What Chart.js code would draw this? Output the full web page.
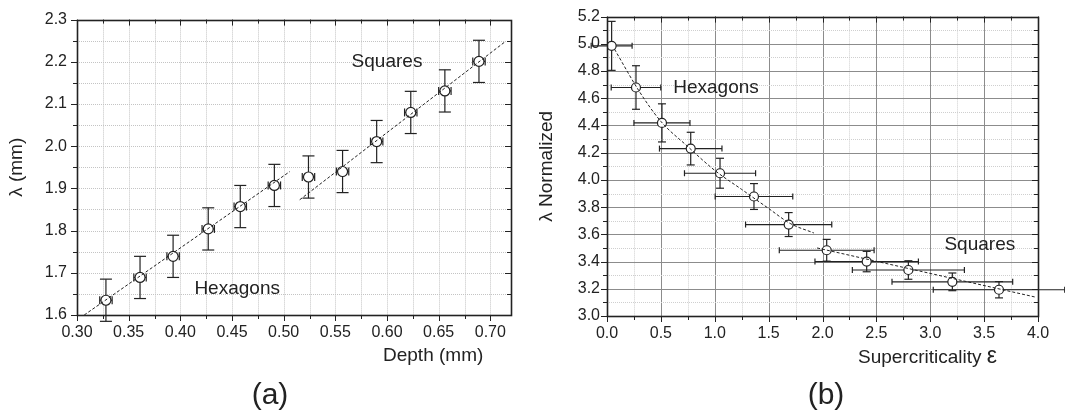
<!DOCTYPE html>
<html>
<head>
<meta charset="utf-8">
<script src="https://cdn.jsdelivr.net/npm/chart.js@4.4.0/dist/chart.umd.min.js"></script>
<style>
body { margin: 0; background: #fff; }
#wrap { position: relative; width: 1065px; height: 419px; font-family: "Liberation Sans", Arial, sans-serif; color: #222; }
canvas { position: absolute; top: 0; }
.lbl { position: absolute; white-space: nowrap; line-height: 1; }
</style>
</head>
<body>
<div id="wrap">
	<canvas id="chartA" width="532" height="419" style="left:0"></canvas>
	<canvas id="chartB" width="533" height="419" style="left:532px"></canvas>
	<div class="lbl" style="left:383px;top:345px;font-size:19px">Depth (mm)</div>
	<div class="lbl" style="left:858px;top:344px;font-size:19px">Supercriticality <span style="font-size:23px">ε</span></div>
	<div class="lbl" style="left:240px;top:379px;width:60px;text-align:center;font-size:30px">(a)</div>
	<div class="lbl" style="left:796px;top:379px;width:60px;text-align:center;font-size:30px">(b)</div>
</div>

<script>
// (a) wavelength vs depth
var depth     = [0.328, 0.361, 0.393, 0.427, 0.458, 0.491, 0.524, 0.557, 0.590, 0.623, 0.656, 0.689];
var lambdaMm  = [1.635, 1.689, 1.739, 1.804, 1.857, 1.907, 1.927, 1.940, 2.011, 2.080, 2.131, 2.201];
var depthErr  = [0.006, 0.006, 0.006, 0.006, 0.006, 0.006, 0.006, 0.006, 0.006, 0.006, 0.006, 0.006];
var lambdaErr = [0.05, 0.05, 0.05, 0.05, 0.05, 0.05, 0.05, 0.05, 0.05, 0.05, 0.05, 0.05];
var hexFitDepth  = [0.307, 0.506];
var hexFitLambda = [1.600, 1.940];
var sqFitDepth   = [0.5155, 0.714];
var sqFitLambda  = [1.873, 2.247];

// (b) normalized wavelength vs supercriticality
var eps        = [0.043, 0.269, 0.510, 0.777, 1.049, 1.364, 1.686, 2.039, 2.410, 2.797, 3.205, 3.638];
var lamNorm    = [4.985, 4.679, 4.419, 4.230, 4.049, 3.878, 3.672, 3.483, 3.400, 3.338, 3.251, 3.193];
var epsErr     = [0.19, 0.23, 0.26, 0.29, 0.33, 0.36, 0.40, 0.44, 0.48, 0.52, 0.56, 0.61];
var lamNormErr = [0.18, 0.16, 0.14, 0.12, 0.11, 0.095, 0.088, 0.08, 0.075, 0.068, 0.065, 0.06];
var hexCurveEps = [0.07, 0.30, 0.50, 0.75, 1.00, 1.25, 1.50, 1.70, 1.92];
var hexCurveLam = [4.96, 4.65, 4.43, 4.245, 4.07, 3.93, 3.79, 3.68, 3.61];
var sqLineEps   = [1.95, 3.97];
var sqLineLam   = [3.50, 3.14];

var FONT = "'Liberation Sans', Arial, sans-serif";
var INK = '#222';

function pts(xs, ys) {
	return xs.map(function (v, i) { return {x: v, y: ys[i]}; });
}

function seg(ctx, x1, y1, x2, y2) {
	ctx.beginPath();
	ctx.moveTo(x1, y1);
	ctx.lineTo(x2, y2);
	ctx.stroke();
}

function setStyle(ctx, s) {
	ctx.strokeStyle = s.color;
	ctx.lineWidth = s.width;
	ctx.setLineDash(s.dash);
}

// grid lines (major + minor) behind the data
var gridPlugin = {
	id: 'gridLines',
	beforeDatasetsDraw: function (chart, args, o) {
		var ctx = chart.ctx, a = chart.chartArea, x = chart.scales.x, y = chart.scales.y;
		ctx.save();
		x.ticks.forEach(function (t) {
			var px = Math.round(x.getPixelForValue(t.value)) + 0.5;
			setStyle(ctx, t.label !== '' ? o.major : o.minor);
			seg(ctx, px, a.top, px, a.bottom);
		});
		y.ticks.forEach(function (t) {
			var py = Math.round(y.getPixelForValue(t.value)) + 0.5;
			setStyle(ctx, t.label !== '' ? o.major : o.minor);
			seg(ctx, a.left, py, a.right, py);
		});
		ctx.restore();
	}
};

// error bars with caps
var errPlugin = {
	id: 'errBars',
	beforeDatasetsDraw: function (chart, args, o) {
		var ctx = chart.ctx, x = chart.scales.x, y = chart.scales.y;
		ctx.save();
		ctx.strokeStyle = INK;
		ctx.lineWidth = 1.2;
		ctx.setLineDash([]);
		chart.data.datasets.forEach(function (ds) {
			if (!ds.yErr) return;
			ds.data.forEach(function (p, i) {
				var cx = x.getPixelForValue(p.x), cy = y.getPixelForValue(p.y);
				var y1 = y.getPixelForValue(p.y + ds.yErr[i]), y2 = y.getPixelForValue(p.y - ds.yErr[i]);
				var x1 = x.getPixelForValue(p.x - ds.xErr[i]), x2 = x.getPixelForValue(p.x + ds.xErr[i]);
				seg(ctx, cx, y1, cx, y2);
				seg(ctx, cx - o.capY, y1, cx + o.capY, y1);
				seg(ctx, cx - o.capY, y2, cx + o.capY, y2);
				seg(ctx, x1, cy, x2, cy);
				seg(ctx, x1, cy - o.capX, x1, cy + o.capX);
				seg(ctx, x2, cy - o.capX, x2, cy + o.capX);
			});
		});
		ctx.restore();
	}
};

// plot frame, tick marks (out on left/bottom, in on top/right) and text notes
var framePlugin = {
	id: 'frame',
	afterDraw: function (chart, args, o) {
		var ctx = chart.ctx, a = chart.chartArea, x = chart.scales.x, y = chart.scales.y;
		ctx.save();
		ctx.setLineDash([]);
		ctx.strokeStyle = INK;
		ctx.lineWidth = 1;
		x.ticks.forEach(function (t) {
			var px = Math.round(x.getPixelForValue(t.value)) + 0.5;
			var len = t.label !== '' ? 6 : 4;
			seg(ctx, px, a.bottom, px, a.bottom + len);
			seg(ctx, px, a.top, px, a.top + len);
		});
		y.ticks.forEach(function (t) {
			var py = Math.round(y.getPixelForValue(t.value)) + 0.5;
			var len = t.label !== '' ? 6 : 4;
			seg(ctx, a.left - len, py, a.left, py);
			seg(ctx, a.right - len, py, a.right, py);
		});
		ctx.lineWidth = 1.6;
		ctx.strokeRect(Math.round(a.left) + 0.5, Math.round(a.top) + 0.5, Math.round(a.right - a.left), Math.round(a.bottom - a.top));
		ctx.fillStyle = INK;
		ctx.font = '19px ' + FONT;
		ctx.textAlign = 'center';
		ctx.textBaseline = 'middle';
		(o.notes || []).forEach(function (n) {
			ctx.fillText(n.text, x.getPixelForValue(n.x), y.getPixelForValue(n.y));
		});
		ctx.restore();
	}
};

Chart.register(gridPlugin, errPlugin, framePlugin);
Chart.defaults.font.family = FONT;
Chart.defaults.color = INK;

function fitLine(xs, ys, curved) {
	return {
		data: pts(xs, ys),
		borderColor: INK,
		borderWidth: 1,
		borderDash: [3, 2],
		pointRadius: 0,
		showLine: true,
		fill: false,
		tension: curved ? 0.4 : 0,
		cubicInterpolationMode: curved ? 'monotone' : 'default'
	};
}

function markers(xs, ys, xe, ye, r) {
	return {
		data: pts(xs, ys),
		xErr: xe,
		yErr: ye,
		showLine: false,
		pointRadius: r,
		pointBorderWidth: 1.2,
		pointBorderColor: INK,
		pointBackgroundColor: '#fff'
	};
}

function axis(min, max, step, isMajor, digits, fixedSize, pad, isY, title) {
	var s = {
		type: 'linear',
		min: min,
		max: max,
		grid: {display: false, drawTicks: false, tickLength: 0},
		border: {display: false},
		ticks: {
			stepSize: step,
			includeBounds: false,
			autoSkip: false,
			maxRotation: 0,
			padding: pad,
			font: {size: 16},
			callback: function (v) { return isMajor(v) ? v.toFixed(digits) : ''; }
		},
		afterFit: function (sc) {
			if (isY) sc.width = fixedSize; else sc.height = fixedSize;
		}
	};
	if (title) s.title = title;
	return s;
}

function baseOptions(pad, xs, ys, gridStyle, errStyle, notes) {
	return {
		responsive: false,
		animation: false,
		devicePixelRatio: 1,
		layout: {padding: pad},
		plugins: {
			legend: {display: false},
			tooltip: {enabled: false},
			gridLines: gridStyle,
			errBars: errStyle,
			frame: {notes: notes}
		},
		scales: {x: xs, y: ys}
	};
}

var lightDot = {color: '#c4c4c4', width: 1, dash: [1, 1]};

new Chart(document.getElementById('chartA'), {
	type: 'line',
	data: {
		datasets: [
			fitLine(hexFitDepth, hexFitLambda, false),
			fitLine(sqFitDepth, sqFitLambda, false),
			markers(depth, lambdaMm, depthErr, lambdaErr, 5)
		]
	},
	options: baseOptions(
		{left: 0, top: 12, right: 21, bottom: 0},
		axis(0.30, 0.72, 0.025, function (v) { return Math.round(v * 1000) % 50 === 0; }, 2, 104, 8, false),
		axis(1.6, 2.3, 0.05, function (v) { return Math.round(v * 100) % 10 === 0; }, 1, 77, 10, true,
			{display: true, text: 'λ (mm)', font: {size: 19}, padding: {top: 5, bottom: 0}}),
		{major: lightDot, minor: lightDot},
		{capX: 4, capY: 6},
		[{text: 'Squares', x: 0.600, y: 2.200}, {text: 'Hexagons', x: 0.455, y: 1.663}]
	)
});

new Chart(document.getElementById('chartB'), {
	type: 'line',
	data: {
		datasets: [
			fitLine(hexCurveEps, hexCurveLam, true),
			fitLine(sqLineEps, sqLineLam, false),
			markers(eps, lamNorm, epsErr, lamNormErr, 4.5)
		]
	},
	options: baseOptions(
		{left: 0, top: 12, right: 27, bottom: 0},
		axis(0, 4, 0.25, function (v) { return Math.round(v * 100) % 50 === 0; }, 1, 103, 8, false),
		axis(3.0, 5.2, 0.1, function (v) { return Math.round(v * 10) % 2 === 0; }, 1, 75, 7, true,
			{display: true, text: 'λ Normalized', font: {size: 19}, padding: {top: 3, bottom: 0}}),
		{major: {color: '#8c8c8c', width: 1, dash: []}, minor: {color: '#cfcfcf', width: 1, dash: [1, 1]}},
		{capX: 3, capY: 4},
		[{text: 'Hexagons', x: 1.012, y: 4.679}, {text: 'Squares', x: 3.46, y: 3.52}]
	)
});
</script>
</body>
</html>
